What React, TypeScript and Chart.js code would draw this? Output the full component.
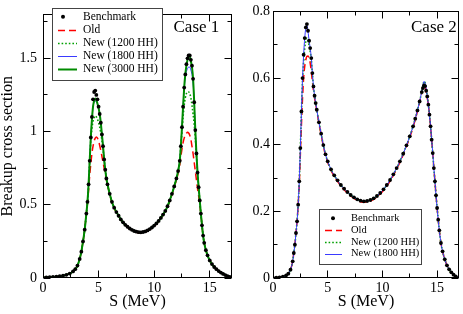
import React, { useEffect, useRef } from 'react';
import { Chart, registerables } from 'chart.js';

Chart.register(...registerables);

// ---------- DATA: Case 1 (left panel) ----------
const LX = [0, 0.3, 0.6, 0.9, 1.2, 1.5, 1.8, 2.1, 2.4, 2.7,
  2.9, 3.1, 3.3, 3.45, 3.6, 3.75, 3.9, 4.0, 4.1, 4.2,
  4.3, 4.4, 4.5, 4.6, 4.7, 4.8, 4.9, 5.0, 5.1, 5.2,
  5.3, 5.4, 5.5, 5.6, 5.7, 5.8, 6.0, 6.2, 6.4, 6.6,
  6.8, 7.0, 7.2, 7.4, 7.6, 7.8, 8.0, 8.2, 8.4, 8.6,
  8.8, 9.0, 9.2, 9.4, 9.6, 9.8, 10.0, 10.2, 10.4, 10.6,
  10.8, 11.0, 11.2, 11.4, 11.6, 11.8, 12.0, 12.15, 12.3, 12.4,
  12.5, 12.6, 12.7, 12.8, 12.9, 13.0, 13.1, 13.2, 13.3, 13.4,
  13.5, 13.6, 13.7, 13.8, 13.9, 14.0, 14.1, 14.2, 14.3, 14.4,
  14.5, 14.65, 14.8, 15.0, 15.2, 15.4, 15.6, 15.8, 16.0, 16.2,
  16.4, 16.6, 16.8, 17.0];

const BENCH_L = [0.003, 0.004, 0.005, 0.007, 0.009, 0.012, 0.016, 0.022, 0.03, 0.045,
  0.06, 0.085, 0.13, 0.18, 0.25, 0.33, 0.44, 0.52, 0.64, 0.8,
  0.96, 1.1, 1.22, 1.27, 1.28, 1.25, 1.22, 1.17, 1.12, 1.06,
  0.98, 0.9, 0.81, 0.74, 0.68, 0.64, 0.575, 0.52, 0.48, 0.45,
  0.425, 0.4, 0.38, 0.363, 0.35, 0.338, 0.329, 0.321, 0.316, 0.313,
  0.312, 0.314, 0.318, 0.325, 0.334, 0.345, 0.358, 0.373, 0.39, 0.41,
  0.433, 0.458, 0.49, 0.53, 0.575, 0.625, 0.68, 0.73, 0.8, 0.9,
  1.03, 1.17, 1.3, 1.39, 1.46, 1.5, 1.52, 1.52, 1.49, 1.45,
  1.36, 1.2, 1.01, 0.85, 0.72, 0.62, 0.53, 0.44, 0.36, 0.29,
  0.24, 0.19, 0.155, 0.12, 0.095, 0.075, 0.06, 0.047, 0.037, 0.028,
  0.02, 0.013, 0.008, 0.004];

const OLD_L = [0.003, 0.004, 0.005, 0.007, 0.009, 0.012, 0.016, 0.022, 0.03, 0.045,
  0.06, 0.085, 0.13, 0.18, 0.25, 0.33, 0.44, 0.51, 0.6, 0.7,
  0.78, 0.85, 0.9, 0.935, 0.955, 0.963, 0.955, 0.935, 0.905, 0.87,
  0.83, 0.79, 0.75, 0.71, 0.67, 0.635, 0.57, 0.515, 0.477, 0.448,
  0.423, 0.398, 0.378, 0.361, 0.347, 0.335, 0.326, 0.318, 0.312, 0.309,
  0.308, 0.31, 0.314, 0.321, 0.33, 0.341, 0.354, 0.369, 0.386, 0.406,
  0.429, 0.454, 0.486, 0.525, 0.57, 0.62, 0.67, 0.715, 0.77, 0.83,
  0.88, 0.925, 0.955, 0.975, 0.988, 0.995, 0.99, 0.975, 0.945, 0.9,
  0.85, 0.79, 0.73, 0.67, 0.61, 0.56, 0.5, 0.44, 0.36, 0.29,
  0.24, 0.19, 0.155, 0.12, 0.095, 0.075, 0.06, 0.047, 0.037, 0.028,
  0.02, 0.013, 0.008, 0.004];

const N1200_L = [0.003, 0.004, 0.005, 0.007, 0.009, 0.012, 0.016, 0.022, 0.03, 0.045,
  0.06, 0.085, 0.13, 0.18, 0.25, 0.33, 0.44, 0.52, 0.64, 0.8,
  0.94, 1.02, 1.07, 1.095, 1.107, 1.1, 1.085, 1.06, 1.03, 0.99,
  0.94, 0.88, 0.81, 0.74, 0.68, 0.64, 0.575, 0.52, 0.48, 0.45,
  0.425, 0.4, 0.38, 0.363, 0.35, 0.338, 0.329, 0.321, 0.316, 0.313,
  0.312, 0.314, 0.318, 0.325, 0.334, 0.345, 0.358, 0.373, 0.39, 0.41,
  0.433, 0.458, 0.49, 0.53, 0.575, 0.625, 0.68, 0.73, 0.8, 0.9,
  1.0, 1.1, 1.18, 1.23, 1.26, 1.27, 1.27, 1.26, 1.23, 1.18,
  1.12, 1.05, 0.96, 0.84, 0.72, 0.62, 0.53, 0.44, 0.36, 0.29,
  0.24, 0.19, 0.155, 0.12, 0.095, 0.075, 0.06, 0.047, 0.037, 0.028,
  0.02, 0.013, 0.008, 0.004];

const N1800_L = [0.003, 0.004, 0.005, 0.007, 0.009, 0.012, 0.016, 0.022, 0.03, 0.045,
  0.06, 0.085, 0.13, 0.18, 0.25, 0.33, 0.44, 0.52, 0.64, 0.8,
  0.96, 1.08, 1.17, 1.2, 1.21, 1.2, 1.19, 1.16, 1.12, 1.06,
  0.98, 0.9, 0.81, 0.74, 0.68, 0.64, 0.575, 0.52, 0.48, 0.45,
  0.425, 0.4, 0.38, 0.363, 0.35, 0.338, 0.329, 0.321, 0.316, 0.313,
  0.312, 0.314, 0.318, 0.325, 0.334, 0.345, 0.358, 0.373, 0.39, 0.41,
  0.433, 0.458, 0.49, 0.53, 0.575, 0.625, 0.68, 0.73, 0.8, 0.9,
  1.03, 1.17, 1.3, 1.37, 1.41, 1.43, 1.44, 1.44, 1.42, 1.39,
  1.33, 1.2, 1.01, 0.85, 0.72, 0.62, 0.53, 0.44, 0.36, 0.29,
  0.24, 0.19, 0.155, 0.12, 0.095, 0.075, 0.06, 0.047, 0.037, 0.028,
  0.02, 0.013, 0.008, 0.004];

const N3000_L = [0.003, 0.004, 0.005, 0.007, 0.009, 0.012, 0.016, 0.022, 0.03, 0.045,
  0.06, 0.085, 0.13, 0.18, 0.25, 0.33, 0.44, 0.52, 0.64, 0.8,
  0.96, 1.08, 1.17, 1.21, 1.225, 1.215, 1.19, 1.16, 1.12, 1.06,
  0.98, 0.9, 0.81, 0.74, 0.68, 0.64, 0.575, 0.52, 0.48, 0.45,
  0.425, 0.4, 0.38, 0.363, 0.35, 0.338, 0.329, 0.321, 0.316, 0.313,
  0.312, 0.314, 0.318, 0.325, 0.334, 0.345, 0.358, 0.373, 0.39, 0.41,
  0.433, 0.458, 0.49, 0.53, 0.575, 0.625, 0.68, 0.73, 0.8, 0.9,
  1.03, 1.17, 1.3, 1.39, 1.45, 1.49, 1.515, 1.515, 1.48, 1.44,
  1.36, 1.2, 1.01, 0.85, 0.72, 0.62, 0.53, 0.44, 0.36, 0.29,
  0.24, 0.19, 0.155, 0.12, 0.095, 0.075, 0.06, 0.047, 0.037, 0.028,
  0.02, 0.013, 0.008, 0.004];

// ---------- DATA: Case 2 (right panel) ----------
const RX = [0, 0.3, 0.6, 0.9, 1.2, 1.4, 1.6, 1.8, 1.9, 2.0,
  2.1, 2.2, 2.3, 2.4, 2.5, 2.6, 2.7, 2.8, 2.9, 3.0,
  3.1, 3.2, 3.3, 3.4, 3.5, 3.6, 3.7, 3.8, 3.9, 4.0,
  4.2, 4.4, 4.6, 4.8, 5.0, 5.3, 5.6, 5.9, 6.2, 6.5,
  6.8, 7.1, 7.4, 7.7, 8.0, 8.3, 8.6, 8.9, 9.2, 9.5,
  9.8, 10.1, 10.4, 10.7, 11.0, 11.3, 11.6, 11.9, 12.2, 12.5,
  12.8, 13.0, 13.2, 13.4, 13.6, 13.7, 13.8, 13.9, 14.0, 14.1,
  14.2, 14.3, 14.4, 14.5, 14.6, 14.7, 14.8, 14.9, 15.0, 15.1,
  15.2, 15.35, 15.5, 15.7, 15.9, 16.1, 16.3, 16.5, 16.7, 17.0];

const BENCH_R = [0, 0.001, 0.002, 0.004, 0.008, 0.013, 0.025, 0.05, 0.075, 0.1,
  0.135, 0.17, 0.22, 0.29, 0.39, 0.5, 0.6, 0.67, 0.72, 0.752,
  0.762, 0.742, 0.712, 0.69, 0.66, 0.615, 0.575, 0.547, 0.525, 0.505,
  0.467, 0.433, 0.399, 0.371, 0.35, 0.326, 0.308, 0.293, 0.279, 0.268,
  0.258, 0.249, 0.242, 0.236, 0.232, 0.23, 0.231, 0.234, 0.239, 0.246,
  0.255, 0.266, 0.279, 0.294, 0.311, 0.33, 0.35, 0.373, 0.398, 0.425,
  0.455, 0.478, 0.503, 0.53, 0.558, 0.57, 0.578, 0.576, 0.562, 0.545,
  0.52, 0.49, 0.455, 0.415, 0.375, 0.33, 0.29, 0.248, 0.21, 0.175,
  0.143, 0.105, 0.08, 0.056, 0.038, 0.026, 0.017, 0.01, 0.005, 0.001];

const OLD_R = [0, 0.001, 0.002, 0.004, 0.008, 0.013, 0.025, 0.05, 0.075, 0.1,
  0.135, 0.17, 0.22, 0.28, 0.37, 0.46, 0.54, 0.6, 0.635, 0.655,
  0.665, 0.666, 0.66, 0.645, 0.62, 0.59, 0.562, 0.54, 0.522, 0.503,
  0.464, 0.43, 0.396, 0.368, 0.347, 0.323, 0.305, 0.29, 0.276, 0.265,
  0.255, 0.246, 0.239, 0.233, 0.229, 0.227, 0.228, 0.231, 0.236, 0.243,
  0.252, 0.263, 0.276, 0.291, 0.308, 0.327, 0.347, 0.37, 0.395, 0.422,
  0.452, 0.475, 0.5, 0.527, 0.556, 0.57, 0.578, 0.574, 0.558, 0.54,
  0.52, 0.49, 0.455, 0.415, 0.375, 0.33, 0.29, 0.248, 0.21, 0.175,
  0.143, 0.105, 0.08, 0.056, 0.038, 0.026, 0.017, 0.01, 0.005, 0.001];

const N1200_R = [0, 0.001, 0.002, 0.004, 0.008, 0.013, 0.025, 0.05, 0.075, 0.1,
  0.135, 0.17, 0.22, 0.29, 0.39, 0.5, 0.59, 0.65, 0.69, 0.71,
  0.72, 0.712, 0.698, 0.68, 0.655, 0.612, 0.575, 0.547, 0.525, 0.505,
  0.467, 0.433, 0.399, 0.371, 0.35, 0.326, 0.308, 0.293, 0.279, 0.268,
  0.258, 0.249, 0.242, 0.236, 0.232, 0.23, 0.231, 0.234, 0.239, 0.246,
  0.255, 0.266, 0.279, 0.294, 0.311, 0.33, 0.35, 0.373, 0.398, 0.425,
  0.455, 0.478, 0.503, 0.53, 0.56, 0.577, 0.59, 0.586, 0.568, 0.545,
  0.52, 0.49, 0.455, 0.415, 0.375, 0.33, 0.29, 0.248, 0.21, 0.175,
  0.143, 0.105, 0.08, 0.056, 0.038, 0.026, 0.017, 0.01, 0.005, 0.001];

const N1800_R = [0, 0.001, 0.002, 0.004, 0.008, 0.013, 0.025, 0.05, 0.075, 0.1,
  0.135, 0.17, 0.22, 0.29, 0.39, 0.5, 0.6, 0.67, 0.72, 0.75,
  0.758, 0.74, 0.712, 0.69, 0.66, 0.615, 0.575, 0.547, 0.525, 0.505,
  0.467, 0.433, 0.399, 0.371, 0.35, 0.326, 0.308, 0.293, 0.279, 0.268,
  0.258, 0.249, 0.242, 0.236, 0.232, 0.23, 0.231, 0.234, 0.239, 0.246,
  0.255, 0.266, 0.279, 0.294, 0.311, 0.33, 0.35, 0.373, 0.398, 0.425,
  0.455, 0.478, 0.503, 0.53, 0.56, 0.575, 0.59, 0.585, 0.568, 0.545,
  0.52, 0.49, 0.455, 0.415, 0.375, 0.33, 0.29, 0.248, 0.21, 0.175,
  0.143, 0.105, 0.08, 0.056, 0.038, 0.026, 0.017, 0.01, 0.005, 0.001];

// ---------- AXES / LABELS ----------
const X_TICKS = [0, 5, 10, 15];
const X_TICK_LABELS = ['0', '5', '10', '15'];
const X_MINOR = [2.5, 7.5, 12.5];
const Y_TICKS_L = [0, 0.5, 1, 1.5];
const Y_TICK_LABELS_L = ['0', '0.5', '1', '1.5'];
const Y_MINOR_L = [0.25, 0.75, 1.25, 1.75];
const Y_TICKS_R = [0, 0.2, 0.4, 0.6, 0.8];
const Y_TICK_LABELS_R = ['0', '0.2', '0.4', '0.6', '0.8'];
const Y_MINOR_R = [0.1, 0.3, 0.5, 0.7];
const LEGEND_L = ['Benchmark', 'Old', 'New (1200 HH)', 'New (1800 HH)', 'New (3000 HH)'];
const LEGEND_R = ['Benchmark', 'Old', 'New (1200 HH)', 'New (1800 HH)'];
const X_TITLE = 'S (MeV)';
const Y_TITLE = 'Breakup cross section';

const FONT = '"Liberation Serif", "Times New Roman", serif';

const STYLES: Record<string, any> = {
  'Benchmark': { showLine: false, pointRadius: 1.9, pointBackgroundColor: '#000', pointBorderWidth: 0, borderColor: '#000', backgroundColor: '#000' },
  'Old': { borderColor: '#ff0000', borderWidth: 1.5, borderDash: [7, 4], pointRadius: 0 },
  'New (1200 HH)': { borderColor: '#00a000', borderWidth: 1.6, borderDash: [1.6, 2], pointRadius: 0 },
  'New (1800 HH)': { borderColor: '#3a3aff', borderWidth: 1, pointRadius: 0 },
  'New (3000 HH)': { borderColor: '#008b00', borderWidth: 2, pointRadius: 0 },
};

const toPts = (xs: number[], ys: number[]) => xs.map((x, i) => ({ x, y: ys[i] }));

const framePlugin = {
  id: 'frameTicks',
  afterDatasetsDraw(chart: any, _a: any, o: any) {
    const { ctx, chartArea: a, scales } = chart;
    const L = Math.round(a.left) + 0.5, R = Math.round(a.right) - 0.5;
    const T = Math.round(a.top) + 0.5, B = Math.round(a.bottom) - 0.5;
    ctx.save();
    ctx.strokeStyle = '#000';
    ctx.lineWidth = 1;
    ctx.setLineDash([]);
    ctx.strokeRect(L, T, R - L, B - T);
    ctx.beginPath();
    const xt = (v: number, len: number) => {
      const p = Math.floor(scales.x.getPixelForValue(v)) + 0.5;
      ctx.moveTo(p, B); ctx.lineTo(p, B - len);
      ctx.moveTo(p, T); ctx.lineTo(p, T + len);
    };
    const yt = (v: number, len: number) => {
      const p = Math.floor(scales.y.getPixelForValue(v)) + 0.5;
      ctx.moveTo(L, p); ctx.lineTo(L + len, p);
      ctx.moveTo(R, p); ctx.lineTo(R - len, p);
    };
    o.xMajor.forEach((v: number) => xt(v, 7));
    o.xMinor.forEach((v: number) => xt(v, 4));
    o.yMajor.forEach((v: number) => yt(v, 7));
    o.yMinor.forEach((v: number) => yt(v, 4));
    ctx.stroke();
    ctx.restore();
  },
};

const legendPlugin = {
  id: 'boxLegend',
  afterDraw(chart: any, _a: any, o: any) {
    const ctx = chart.ctx;
    ctx.save();
    const [bx, by, bw, bh] = o.box;
    ctx.fillStyle = '#fff';
    ctx.fillRect(bx, by, bw, bh);
    ctx.strokeStyle = '#444';
    ctx.lineWidth = 1;
    ctx.setLineDash([]);
    ctx.strokeRect(bx + 0.5, by + 0.5, bw, bh);
    ctx.font = `${o.fontSize}px ${FONT}`;
    ctx.textBaseline = 'middle';
    ctx.textAlign = 'left';
    o.items.forEach((label: string, i: number) => {
      const st = STYLES[label];
      const yy = o.y0 + i * o.dy;
      if (st.showLine === false) {
        ctx.fillStyle = '#000';
        ctx.beginPath();
        ctx.arc(o.dotX, yy, 2, 0, Math.PI * 2);
        ctx.fill();
      } else {
        ctx.strokeStyle = st.borderColor;
        ctx.lineWidth = st.borderWidth;
        ctx.setLineDash(st.borderDash || []);
        ctx.beginPath();
        ctx.moveTo(o.symX0, Math.round(yy) + 0.5);
        ctx.lineTo(o.symX1, Math.round(yy) + 0.5);
        ctx.stroke();
        ctx.setLineDash([]);
      }
      ctx.fillStyle = '#000';
      ctx.fillText(label, o.textX, yy);
    });
    ctx.font = `17px ${FONT}`;
    ctx.textBaseline = 'alphabetic';
    ctx.fillText(o.caseText, o.caseX, o.caseY);
    ctx.restore();
  },
};

function makeConfig(p: any) {
  const datasets = p.order.map((label: string) => ({
    label,
    data: toPts(p.xs, p.series[label]),
    cubicInterpolationMode: 'monotone',
    ...STYLES[label],
  }));
  const tickFont = { family: FONT, size: 14 };
  return {
    type: 'line',
    data: { datasets },
    plugins: [framePlugin, legendPlugin],
    options: {
      responsive: false,
      maintainAspectRatio: false,
      animation: false,
      devicePixelRatio: 1,
      layout: { padding: { left: 0, right: p.padRight, top: 6, bottom: 0 } },
      scales: {
        x: {
          type: 'linear', min: 0, max: 17,
          afterBuildTicks: (s: any) => { s.ticks = X_TICKS.map((v) => ({ value: v })); },
          afterFit: (s: any) => { s.height = 36; },
          ticks: {
            callback: (v: number) => X_TICK_LABELS[X_TICKS.indexOf(v)],
            color: '#000', font: tickFont, padding: 2, maxRotation: 0, autoSkip: false,
          },
          grid: { display: false, drawTicks: false },
          border: { display: false },
          title: { display: true, text: X_TITLE, color: '#000', font: { family: FONT, size: 16 }, padding: { top: 0, bottom: 2.4 } },
        },
        y: {
          type: 'linear', min: 0, max: p.yMax,
          afterBuildTicks: (s: any) => { s.ticks = p.yTicks.map((v: number) => ({ value: v })); },
          afterFit: (s: any) => { s.width = p.yWidth; },
          ticks: {
            callback: (v: number) => p.yLabels[p.yTicks.indexOf(v)],
            color: '#000', font: tickFont, padding: p.yPad, autoSkip: false,
          },
          grid: { display: false, drawTicks: false },
          border: { display: false },
          title: { display: !!p.yTitle, text: p.yTitle || '', color: '#000', font: { family: FONT, size: 16 }, padding: { top: -1.5, bottom: 0 } },
        },
      },
      plugins: {
        legend: { display: false },
        tooltip: { enabled: false },
        frameTicks: { xMajor: X_TICKS, xMinor: X_MINOR, yMajor: p.yTicks, yMinor: p.yMinor },
        boxLegend: p.legend,
      },
    },
  };
}

const DRAW_ORDER_L = ['Benchmark', 'New (3000 HH)', 'New (1800 HH)', 'New (1200 HH)', 'Old'];
const DRAW_ORDER_R = ['Benchmark', 'New (1800 HH)', 'New (1200 HH)', 'Old'];

export default function App() {
  const leftRef = useRef<HTMLCanvasElement>(null);
  const rightRef = useRef<HTMLCanvasElement>(null);

  useEffect(() => {
    const left = new Chart(leftRef.current as any, makeConfig({
      xs: LX,
      series: { 'Benchmark': BENCH_L, 'Old': OLD_L, 'New (1200 HH)': N1200_L, 'New (1800 HH)': N1800_L, 'New (3000 HH)': N3000_L },
      order: DRAW_ORDER_L,
      yMax: 1.8, yTicks: Y_TICKS_L, yLabels: Y_TICK_LABELS_L, yMinor: Y_MINOR_L,
      yWidth: 43, yPad: 6, padRight: 5, yTitle: Y_TITLE,
      legend: {
        box: [52, 8, 110, 72], items: LEGEND_L, y0: 16.7, dy: 13.15,
        symX0: 58, symX1: 77, dotX: 63, textX: 83, fontSize: 11.5,
        caseText: 'Case 1', caseX: 173.5, caseY: 31.5,
      },
    }) as any);
    const right = new Chart(rightRef.current as any, makeConfig({
      xs: RX,
      series: { 'Benchmark': BENCH_R, 'Old': OLD_R, 'New (1200 HH)': N1200_R, 'New (1800 HH)': N1800_R },
      order: DRAW_ORDER_R,
      yMax: 0.8, yTicks: Y_TICKS_R, yLabels: Y_TICK_LABELS_R, yMinor: Y_MINOR_R,
      yWidth: 36, yPad: 3, padRight: 1, yTitle: '',
      legend: {
        box: [82, 209, 102, 55], items: LEGEND_R, y0: 218.3, dy: 11.75,
        symX0: 88, symX1: 105, dotX: 96, textX: 114, fontSize: 10.5,
        caseText: 'Case 2', caseX: 174, caseY: 31.5,
      },
    }) as any);
    return () => { left.destroy(); right.destroy(); };
  }, []);

  return (
    <div style={{ position: 'fixed', left: 0, top: 0, width: 463, height: 314, background: '#fff' }}>
      <canvas ref={leftRef} width={237} height={314} style={{ position: 'absolute', left: 0, top: 0, width: 237, height: 314 }} />
      <canvas ref={rightRef} width={226} height={314} style={{ position: 'absolute', left: 237, top: 0, width: 226, height: 314 }} />
    </div>
  );
}
